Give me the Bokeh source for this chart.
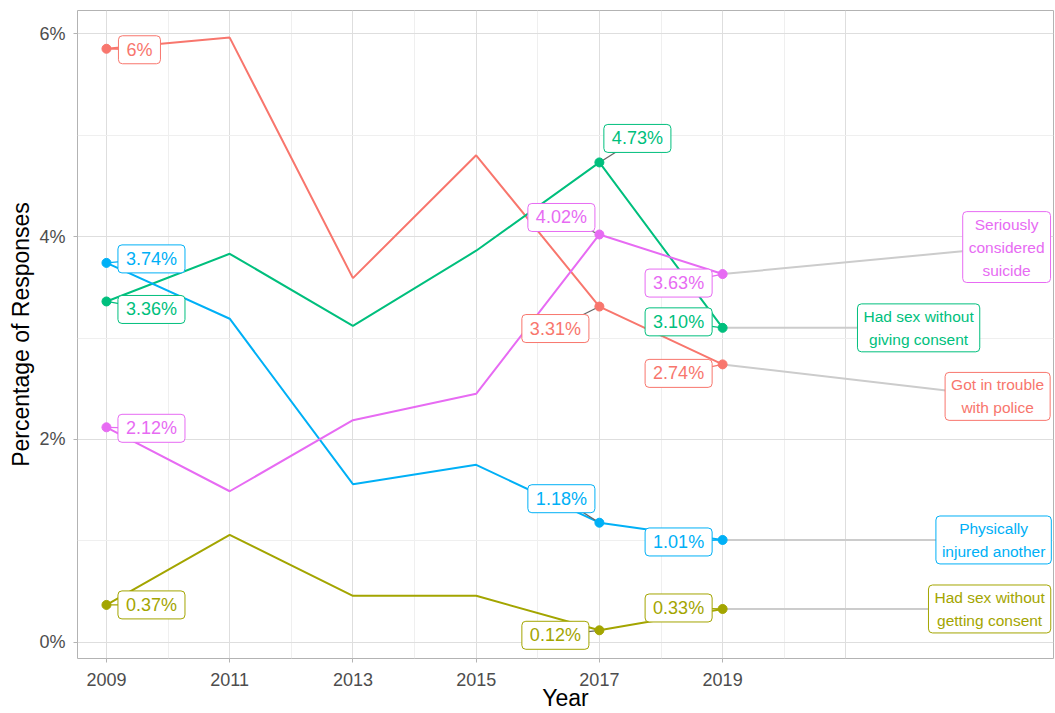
from bokeh.plotting import figure
from bokeh.models import Range1d, FixedTicker, ColumnDataSource
from bokeh.core.properties import value
from bokeh.embed import file_html
from bokeh.resources import INLINE

# ---------------- data ----------------
years = [2009, 2011, 2013, 2015, 2017, 2019]
police = [5.85, 5.96, 3.59, 4.80, 3.31, 2.74]
sex_getting = [0.37, 1.06, 0.46, 0.46, 0.12, 0.33]
sex_giving = [3.36, 3.83, 3.12, 3.86, 4.73, 3.10]
injured = [3.74, 3.19, 1.56, 1.75, 1.18, 1.01]
suicide = [2.12, 1.49, 2.19, 2.45, 4.02, 3.63]

series = [police, sex_getting, sex_giving, injured, suicide]
series_names = ["Got in trouble\nwith police",
                "Had sex without\ngetting consent",
                "Had sex without\ngiving consent",
                "Physically\ninjured another",
                "Seriously\nconsidered\nsuicide"]
colors = ["#F8766D", "#A3A500", "#00BF7D", "#00B0F6", "#E76BF3"]

labeled_years = [2009, 2017, 2019]
labels_2009 = ["6%", "0.37%", "3.36%", "3.74%", "2.12%"]
labels_2017 = ["3.31%", "0.12%", "4.73%", "1.18%", "4.02%"]
labels_2019 = ["2.74%", "0.33%", "3.10%", "1.01%", "3.63%"]
value_labels = [labels_2009, labels_2017, labels_2019]

x_ticks = [2009, 2011, 2013, 2015, 2017, 2019]
y_ticks = [0, 2, 4, 6]
y_tick_labels = ["0%", "2%", "4%", "6%"]
x_title = "Year"
y_title = "Percentage of Responses"

# ---------------- layout (pixel offsets of repelled labels) ----------------
value_offsets = [
    [(33, 1), (45, 0), (45, 8), (45, -4), (45, 1)],          # 2009
    [(-44, 22), (-44, 5), (38, -24), (-38, -24), (-38, -17)],  # 2017
    [(-44, 9), (-44, -1), (-44, -6), (-44, 2), (-44, 9)],      # 2019
]
name_offsets = [(275, 32), (267, 0), (196, 0), (271, 0), (284, -27)]

W, H = 1055, 713
BL, BR, BT, BB = 77, 2, 10, 55
X0, X1 = 2008.53, 2024.37
Y0, Y1 = -0.158, 6.227
FW = W - BL - BR
FH = H - BT - BB
px_x = FW / (X1 - X0)
px_y = FH / (Y1 - Y0)

FONT = value("Liberation Sans")

p = figure(width=W, height=H, output_backend="svg", toolbar_location=None,
           x_range=Range1d(X0, X1), y_range=Range1d(Y0, Y1),
           min_border_left=BL, min_border_right=BR, min_border_top=BT,
           min_border_bottom=BB)

p.background_fill_color = "white"
p.border_fill_color = "white"
p.outline_line_color = "#b3b3b3"
p.outline_line_width = 1

# grid
p.xgrid.ticker = FixedTicker(ticks=list(range(2009, 2022, 2)),
                             minor_ticks=list(range(2010, 2021, 2)))
p.ygrid.ticker = FixedTicker(ticks=y_ticks, minor_ticks=[1, 3, 5])
for g in (p.xgrid, p.ygrid):
    g.grid_line_color = "#dedede"
    g.grid_line_width = 1
    g.minor_grid_line_color = "#efefef"
    g.minor_grid_line_width = 1

# axes
p.xaxis.ticker = FixedTicker(ticks=x_ticks)
p.yaxis.ticker = FixedTicker(ticks=y_ticks)
p.yaxis.major_label_overrides = dict(zip(y_ticks, y_tick_labels))
for ax in (p.xaxis, p.yaxis):
    ax.axis_line_color = None
    ax.major_tick_line_color = "#b3b3b3"
    ax.major_tick_out = 4
    ax.major_tick_in = 0
    ax.minor_tick_line_color = None
    ax.major_label_text_color = "#4d4d4d"
    ax.major_label_text_font = "Liberation Sans"
    ax.major_label_text_font_size = "18px"
    ax.axis_label_text_font = "Liberation Sans"
    ax.axis_label_text_font_size = "23px"
    ax.axis_label_text_font_style = "normal"
    ax.axis_label_text_color = "black"
p.xaxis.axis_label = x_title
p.yaxis.axis_label = y_title
p.xaxis.major_label_standoff = 10
p.xaxis.axis_label_standoff = -4
p.yaxis.major_label_standoff = 8
p.yaxis.axis_label_standoff = 2

# lines
for vals, c in zip(series, colors):
    p.line(years, vals, line_color=c, line_width=2)

# category name leaders (light grey)
for vals, noff in zip(series, name_offsets):
    xl = years[-1]
    yl = vals[-1]
    p.segment(x0=[xl], y0=[yl], x1=[xl + noff[0] / px_x], y1=[yl - noff[1] / px_y],
              line_color="#cccccc", line_width=2)

# value label leaders
for yi, yr in enumerate(labeled_years):
    idx = years.index(yr)
    for si, (vals, c) in enumerate(zip(series, colors)):
        dx, dy = value_offsets[yi][si]
        seg_col = "#666666" if yr == 2017 else c
        p.segment(x0=[yr], y0=[vals[idx]], x1=[yr + dx / px_x], y1=[vals[idx] - dy / px_y],
                  line_color=seg_col, line_width=1.3)

# points
for vals, c in zip(series, colors):
    px = list(labeled_years)
    py = [vals[years.index(y)] for y in labeled_years]
    p.scatter(px, py, size=9, fill_color=c, line_color=c)

# value labels
for yi, yr in enumerate(labeled_years):
    idx = years.index(yr)
    src = ColumnDataSource(dict(
        x=[yr] * len(series),
        y=[vals[idx] for vals in series],
        text=value_labels[yi],
        xo=[o[0] for o in value_offsets[yi]],
        yo=[o[1] for o in value_offsets[yi]],
        col=colors,
    ))
    p.text(x="x", y="y", text="text", x_offset="xo", y_offset="yo", source=src,
           text_align="center", text_baseline="middle", text_color="col",
           text_font=FONT, text_font_size="18px",
           background_fill_color="white", border_line_color="col",
           border_line_width=1, border_radius=4, padding=(8, 4))

# category name labels
src_names = ColumnDataSource(dict(
    x=[years[-1]] * len(series),
    y=[vals[-1] for vals in series],
    text=series_names,
    xo=[o[0] for o in name_offsets],
    yo=[o[1] for o in name_offsets],
    col=colors,
))
p.text(x="x", y="y", text="text", x_offset="xo", y_offset="yo", source=src_names,
       text_align="center", text_baseline="middle", text_color="col",
       text_font=FONT, text_font_size="15.5px", text_line_height=1.35,
       background_fill_color="white", border_line_color="col",
       border_line_width=1, border_radius=4, padding=(6, 4))

open("out.html", "w").write(file_html(p, INLINE))
